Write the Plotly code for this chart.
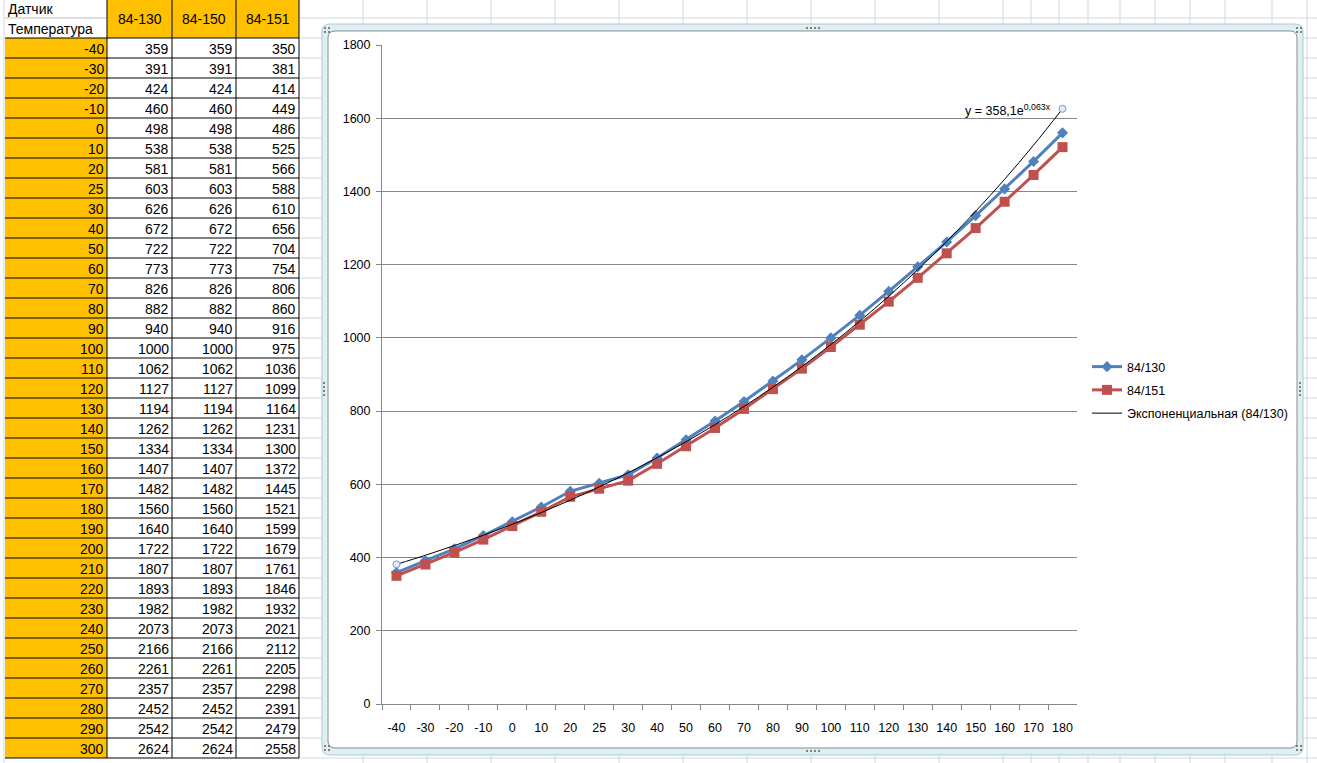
import numpy as np
import plotly.graph_objects as go

W, H = 1317, 763

# ---------------- data ----------------
temps = [-40, -30, -20, -10, 0, 10, 20, 25, 30, 40, 50, 60, 70, 80, 90, 100, 110, 120,
         130, 140, 150, 160, 170, 180, 190, 200, 210, 220, 230, 240, 250, 260, 270, 280, 290, 300]
sensor_names = ["84-130", "84-150", "84-151"]
s130 = [359, 391, 424, 460, 498, 538, 581, 603, 626, 672, 722, 773, 826, 882, 940, 1000, 1062, 1127,
        1194, 1262, 1334, 1407, 1482, 1560, 1640, 1722, 1807, 1893, 1982, 2073, 2166, 2261, 2357, 2452, 2542, 2624]
s150 = [359, 391, 424, 460, 498, 538, 581, 603, 626, 672, 722, 773, 826, 882, 940, 1000, 1062, 1127,
        1194, 1262, 1334, 1407, 1482, 1560, 1640, 1722, 1807, 1893, 1982, 2073, 2166, 2261, 2357, 2452, 2542, 2624]
s151 = [350, 381, 414, 449, 486, 525, 566, 588, 610, 656, 704, 754, 806, 860, 916, 975, 1036, 1099,
        1164, 1231, 1300, 1372, 1445, 1521, 1599, 1679, 1761, 1846, 1932, 2021, 2112, 2205, 2298, 2391, 2479, 2558]
header_a = ["Датчик", "Температура"]
series_names = ["84/130", "84/151", "Экспоненциальная (84/130)"]
trend_label = "y = 358,1e<sup>0,063x</sup>"
n_chart = 24
categories = [str(t) for t in temps[:n_chart]]

# ---------------- helpers (pixel -> paper) ----------------
def X(px):
    return px / W

def Y(py):
    return 1 - py / H

F_TAB = "Liberation Sans, Arial"
F_CH = "Liberation Sans, Arial"
GRID = "#D0D7E5"
AX = "#868686"

fig = go.Figure()

# ---------------- chart traces ----------------
fig.add_trace(go.Scatter(
    x=categories, y=s130[:n_chart], name=series_names[0], mode="lines+markers",
    line=dict(color="#4F81BD", width=3),
    marker=dict(symbol="diamond", size=8.5, color="#4F81BD"),
    legendgroup="a"))
fig.add_trace(go.Scatter(
    x=categories, y=s151[:n_chart], name=series_names[1], mode="lines+markers",
    line=dict(color="#C0504D", width=3),
    marker=dict(symbol="square", size=10, color="#C0504D"),
    legendgroup="b"))

idx = np.arange(1, n_chart + 1)
b, lna = np.polyfit(idx, np.log(np.array(s130[:n_chart], dtype=float)), 1)
trend = np.exp(lna + b * idx)
fig.add_trace(go.Scatter(
    x=categories, y=trend, name=series_names[2], mode="lines",
    line=dict(color="black", width=1, shape="spline"),
    legendgroup="c"))
fig.add_trace(go.Scatter(
    x=[categories[0], categories[-1]], y=[trend[0], trend[-1]], mode="markers",
    marker=dict(symbol="circle", size=7, color="#E4ECF6", line=dict(color="#6F9BCF", width=1)),
    showlegend=False, hoverinfo="skip"))

# ---------------- shapes ----------------
shapes = []

def line(x0, y0, x1, y1, color, width=1):
    shapes.append(dict(type="line", xref="paper", yref="paper", x0=X(x0), y0=Y(y0), x1=X(x1), y1=Y(y1),
                       line=dict(color=color, width=width), layer="below"))

def rect(x0, y0, x1, y1, fill):
    shapes.append(dict(type="rect", xref="paper", yref="paper", x0=X(x0), y0=Y(y0), x1=X(x1), y1=Y(y1),
                       fillcolor=fill, line=dict(width=0), layer="below"))

def rrect(x0, y0, x1, y1, r, fill, lcolor, lw=1):
    def p(x, y):
        return f"{X(x):.6f},{Y(y):.6f}"
    path = (f"M {p(x0 + r, y0)} L {p(x1 - r, y0)} Q {p(x1, y0)} {p(x1, y0 + r)} "
            f"L {p(x1, y1 - r)} Q {p(x1, y1)} {p(x1 - r, y1)} L {p(x0 + r, y1)} "
            f"Q {p(x0, y1)} {p(x0, y1 - r)} L {p(x0, y0 + r)} Q {p(x0, y0)} {p(x0 + r, y0)} Z")
    shapes.append(dict(type="path", xref="paper", yref="paper", path=path, fillcolor=fill,
                       line=dict(color=lcolor, width=lw), layer="below"))

# spreadsheet grid to the right of the table
col_edges = [363, 427, 491, 555, 619, 683, 747, 811, 875, 939, 1003, 1031, 1059, 1088, 1120,
             1155, 1190, 1225, 1272, 1307]
for cx in col_edges:
    line(cx, 0, cx, H, GRID)
for ry in range(18, H, 20):
    line(300, ry, W, ry, GRID)
line(4, 0, 4, H, GRID)

# table
n_rows = len(temps)
row_h = 20
top = 38
bottom = top + n_rows * row_h
rect(5, top, 107, bottom, "#FFC000")
rect(107, 0, 299, top, "#FFC000")
line(5, 18, 107, 18, "#BFBFBF")
for i in range(n_rows + 1):
    yy = top + i * row_h
    line(5, yy, 299, yy, "black")
for cx in [107, 172, 236, 299]:
    line(cx, 0, cx, bottom, "black")

# chart frame (selection band + chart area)
rrect(322, 24, 1303, 755, 8, "#DDF0F4", "#B3C7CE")
rrect(328, 31, 1297, 748, 7, "white", "#8C8C8C")

# handles
def dot(x, y):
    rect(x, y, x + 2, y + 2, "#7F7F7F")
for dx in [806, 810, 814, 818]:
    dot(dx, 27)
    dot(dx, 750)
for dy in [382, 386, 390, 394]:
    dot(323, dy)
    dot(1299, dy)
for (cx, cy) in [(324, 27), (1296, 27), (1296, 745), (324, 745)]:
    dot(cx, cy)
    dot(cx + 4, cy)
    dot(cx, cy + 4)
    dot(cx + 4, cy + 4)

# ---------------- annotations (table text + trend label) ----------------
ann = []

def txt(x, y, s, xa, size=14, fam=F_TAB):
    ann.append(dict(xref="paper", yref="paper", x=X(x), y=Y(y), text=s, showarrow=False,
                    xanchor=xa, yanchor="middle", font=dict(family=fam, size=size, color="black")))

txt(6, 9, header_a[0], "left")
txt(6, 28.5, header_a[1], "left")
for name, cx in zip(sensor_names, [139.5, 204, 267.5]):
    txt(cx, 19, name, "center")
for i, t in enumerate(temps):
    cy = top + i * row_h + 11
    txt(106, cy, str(t), "right")
    txt(171, cy, str(s130[i]), "right")
    txt(235, cy, str(s150[i]), "right")
    txt(298, cy, str(s151[i]), "right")

txt(1053, 110, trend_label, "right", size=12.5, fam=F_CH)

fig.update_layout(
    width=W, height=H, margin=dict(l=0, r=0, t=0, b=0, pad=0, autoexpand=False),
    paper_bgcolor="white", plot_bgcolor="rgba(0,0,0,0)",
    shapes=shapes, annotations=ann,
    font=dict(family=F_CH, size=12.5, color="black"),
    xaxis=dict(domain=[X(382), X(1077)], type="category", categoryorder="array",
               categoryarray=categories, range=[-0.5, n_chart - 0.5], autorange=False,
               tickson="boundaries", ticks="outside", ticklen=5,
               tickcolor=AX, showline=True, linecolor=AX, linewidth=1, showgrid=False, tickangle=0,
               zeroline=False, automargin=False, ticklabelstandoff=12,
               tickfont=dict(family=F_CH, size=12.5, color="black"), fixedrange=True),
    yaxis=dict(domain=[Y(704), Y(45)], range=[0, 1800], dtick=200, tick0=0, ticks="outside",
               ticklen=5, tickcolor=AX, showline=True, linecolor=AX, linewidth=1, showgrid=True,
               gridcolor=AX, gridwidth=1, zeroline=False, automargin=False, ticklabelstandoff=3,
               tickfont=dict(family=F_CH, size=12.5, color="black"), fixedrange=True),
    showlegend=True,
    legend=dict(x=X(1087), y=Y(352), xanchor="left", yanchor="top", bgcolor="rgba(0,0,0,0)",
                font=dict(family=F_CH, size=12.5, color="black"), tracegroupgap=4, itemwidth=30),
)

fig.write_html("out.html", config={"displayModeBar": False},
               post_script="document.body.style.margin='0';")
